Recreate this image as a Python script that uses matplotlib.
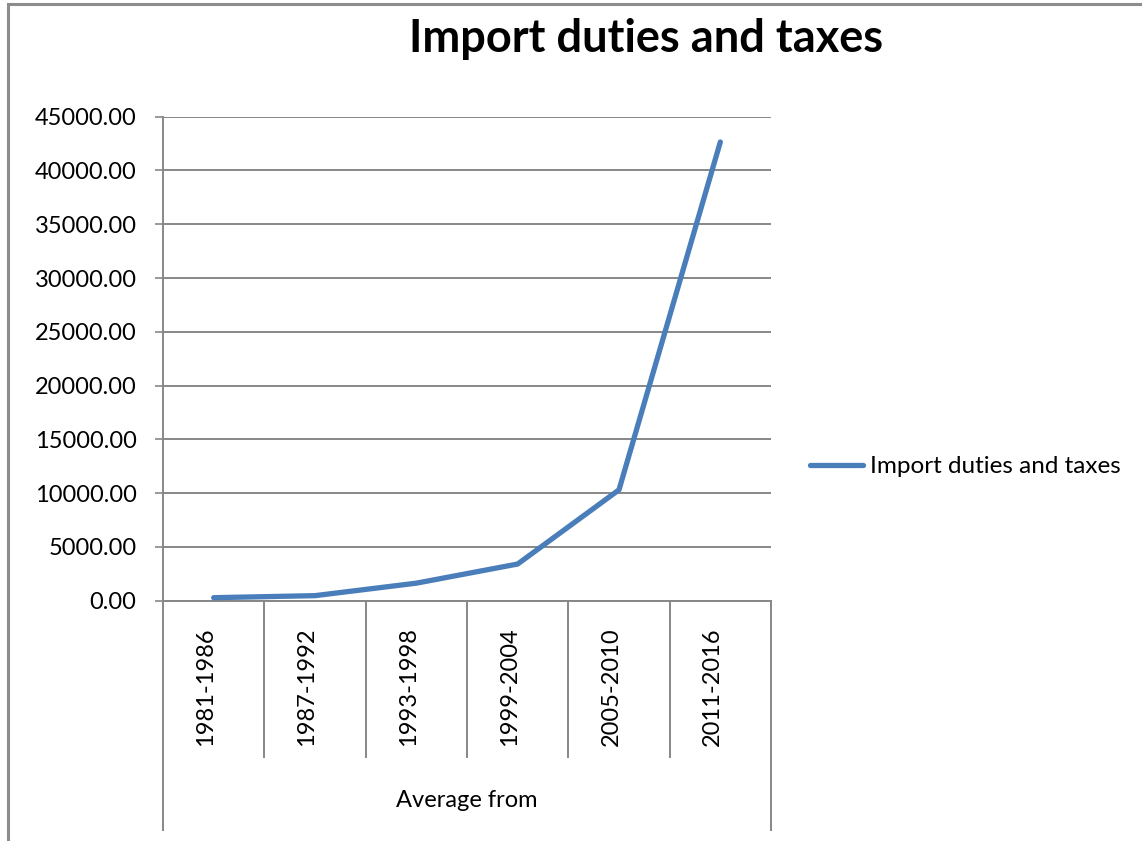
import matplotlib
matplotlib.use('Agg')
import matplotlib.pyplot as plt
from matplotlib.patches import Rectangle
from matplotlib.transforms import ScaledTranslation

# data
periods = ['1981-1986', '1987-1992', '1993-1998', '1999-2004', '2005-2010', '2011-2016']
values = [280, 470, 1630, 3410, 10310, 42650]
y_ticks = [0, 5000, 10000, 15000, 20000, 25000, 30000, 35000, 40000, 45000]
series_name = 'Import duties and taxes'
axis_title = 'Average from'

plt.rcParams['font.family'] = ['Lato', 'DejaVu Sans']

W, H = 1142, 841
fig = plt.figure(figsize=(W / 100, H / 100), dpi=100)
grey = '#878787'
blue = '#4a7ebb'

# chart border (runs off the right and bottom of the picture)
fig.patches.append(Rectangle((8 / W, -0.1), 1.2, 1 - 4.5 / H + 0.1, transform=fig.transFigure,
                             fill=False, edgecolor='#8c8c8c', linewidth=2.2))

ax = fig.add_axes([163 / W, 1 - 600.7 / H, 608 / W, 484 / H])
x = list(range(len(periods)))
ax.plot(x, values, color=blue, linewidth=3.8, solid_capstyle='round', solid_joinstyle='round',
        label=series_name, zorder=3)

ax.set_xlim(-0.5, len(periods) - 0.5)
ax.set_ylim(0, 45000)
ax.set_yticks(y_ticks)
ax.set_yticklabels(['%.2f' % v for v in y_ticks], fontsize=17)
ax.yaxis.grid(True, color=grey, linewidth=1.4)
ax.set_axisbelow(True)
ax.tick_params(axis='y', length=6, width=1.2, color=grey, pad=13)

ax.set_xticks(x)
ax.set_xticklabels(periods, rotation=90, fontsize=17, va='top', ha='center')
ax.tick_params(axis='x', length=0, pad=19)
shift = ScaledTranslation(-8 / 100, 0, fig.dpi_scale_trans)
for lbl in ax.get_xticklabels():
    lbl.set_transform(lbl.get_transform() + shift)

for s in ['top', 'right']:
    ax.spines[s].set_visible(False)
ax.spines['left'].set_color(grey)
ax.spines['left'].set_linewidth(1.4)
ax.spines['bottom'].set_color(grey)
ax.spines['bottom'].set_linewidth(1.4)

# category separators below the axis
tr = ax.get_xaxis_transform()
n = len(periods)
for k in range(n + 1):
    b = k - 0.5
    bottom = -0.474 if k in (0, n) else -0.323
    ax.plot([b, b], [0, bottom], transform=tr, color=grey, linewidth=1.4, clip_on=False)
ax.text(0.5, -0.412, axis_title, transform=ax.transAxes, ha='center', va='center', fontsize=17)

fig.text(646 / W, 1 - 39 / H, series_name, ha='center', va='center', fontsize=32.5, fontweight='bold')

fig.legend(loc='center left', bbox_to_anchor=(810 / W, 1 - 466.7 / H), frameon=False,
           fontsize=17.5, handlelength=2.2, handletextpad=0.25, borderpad=0, borderaxespad=0)

fig.savefig('out.png', dpi=100)
